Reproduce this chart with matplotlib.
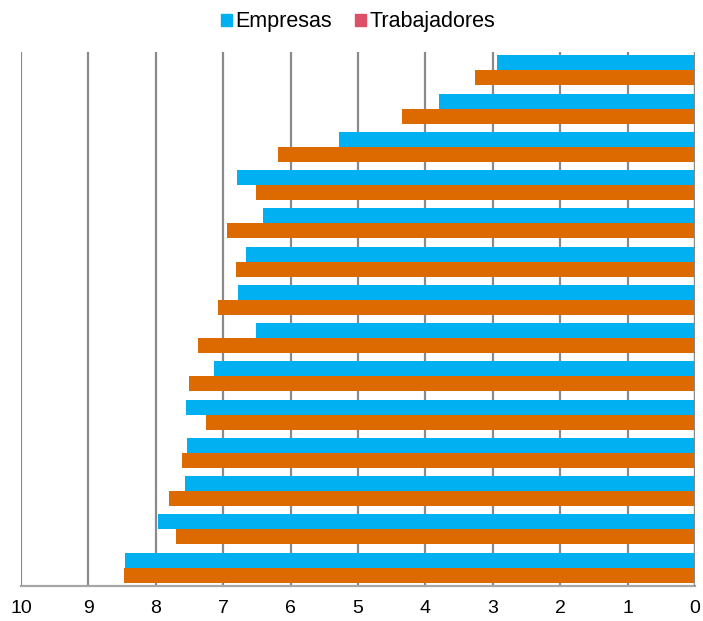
import matplotlib
matplotlib.use("Agg")
import matplotlib.pyplot as plt
from matplotlib.patches import Patch
import numpy as np

plt.rcParams['font.family'] = ['Liberation Sans', 'DejaVu Sans']

series_names = ["Empresas", "Trabajadores"]
empresas = [2.94, 3.80, 5.28, 6.79, 6.41, 6.66, 6.78, 6.52, 7.13, 7.55, 7.53, 7.56, 7.97, 8.46]
trabajadores = [3.27, 4.35, 6.18, 6.52, 6.95, 6.81, 7.08, 7.38, 7.51, 7.26, 7.61, 7.80, 7.70, 8.47]
x_ticks = list(range(0, 11))

blue = "#00B0F0"
orange = "#DD6A00"
legend_red = "#DC5068"

fig = plt.figure(figsize=(7.03, 6.21), dpi=100)
ax = fig.add_axes([21 / 703, 1 - 586 / 621, 674 / 703, 534 / 621])

pos = np.arange(len(empresas))
h = 0.39
ax.barh(pos - h / 2, empresas, height=h, color=blue, zorder=3)
ax.barh(pos + h / 2, trabajadores, height=h, color=orange, zorder=3)

ax.set_xlim(10, 0)
ax.set_ylim(len(empresas) - 1 + 0.48, -0.48)
ax.set_xticks(x_ticks)
ax.set_xticklabels([str(t) for t in x_ticks])
ax.set_yticks([])
ax.tick_params(axis='x', length=0, pad=10, labelsize=14, colors='black')
ax.grid(axis='x', color='#8a8a8a', linewidth=1.6, zorder=0)
ax.set_axisbelow(True)
# the zero line stays visible on top of the bars' base
ax.axvline(0, color='#8a8a8a', linewidth=1.6, zorder=4)
for s in ['left', 'right', 'top']:
    ax.spines[s].set_visible(False)
ax.spines['bottom'].set_color('#a6a6a6')
ax.spines['bottom'].set_linewidth(1.6)

handles = [Patch(color=blue), Patch(color=legend_red)]
fig.legend(handles, series_names, loc='center', bbox_to_anchor=(358 / 703, 1 - 22 / 621),
           ncol=2, frameon=False, fontsize=15.5, handlelength=0.5, handleheight=0.5,
           handletextpad=0.15, columnspacing=1.1)

fig.savefig("out.png", dpi=100)
